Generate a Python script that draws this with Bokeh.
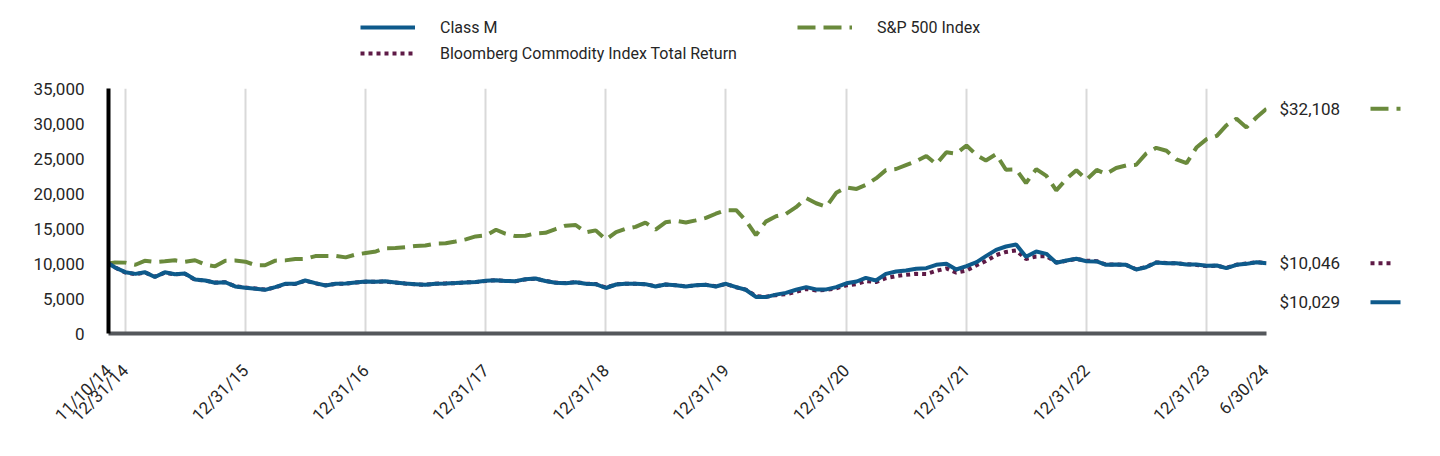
import pandas as pd
from bokeh.plotting import figure
from bokeh.layouts import row, column
from bokeh.models import (Range1d, FixedTicker, NumeralTickFormatter, Legend,
                          LegendItem, Label, ColumnDataSource)
from bokeh.embed import file_html
from bokeh.resources import INLINE

# ---------------- data ----------------
START_DATE = "2014-11-10"
END_DATE = "2024-06-30"
try:
    month_ends = list(pd.date_range("2014-11-30", END_DATE, freq="ME"))
except Exception:
    month_ends = list(pd.date_range("2014-11-30", END_DATE, freq="M"))
DATES = [pd.Timestamp(START_DATE)] + month_ends

CLASS_M = [10000,
    9430, 8760,
    8520, 8760, 8080, 8740, 8470, 8560, 7720, 7570, 7250, 7320, 6720, 6530,
    6380, 6240, 6620, 7100, 7100, 7570, 7190, 6860, 7100, 7150, 7300, 7430,
    7400, 7450, 7300, 7150, 7050, 6950, 7100, 7150, 7200, 7300, 7350, 7520,
    7620, 7500, 7480, 7750, 7860, 7500, 7250, 7190, 7330, 7100, 7050, 6500,
    7000, 7100, 7100, 7050, 6710, 7000, 6900, 6710, 6900, 6950, 6710, 7100,
    6630, 6250, 5220, 5200, 5550, 5800, 6250, 6620, 6300, 6300, 6620, 7170,
    7430, 7950, 7570, 8520, 8860, 9000, 9240, 9330, 9810, 9950, 9140, 9620,
    10190, 11050, 11950, 12430, 12710, 10950, 11710, 11380, 10100, 10430, 10670, 10330,
    10290, 9810, 9860, 9810, 9140, 9470, 10140, 10050, 10050, 9860, 9860, 9670,
    9710, 9330, 9810, 9950, 10190, 10029]

BCOM = [10000,
    9430, 8720,
    8470, 8720, 8120, 8700, 8440, 8540, 7680, 7560, 7270, 7320, 6760, 6560,
    6420, 6270, 6580, 7080, 7080, 7540, 7160, 6880, 7090, 7120, 7270, 7400,
    7380, 7420, 7280, 7140, 7040, 6960, 7110, 7160, 7190, 7310, 7340, 7500,
    7620, 7510, 7470, 7730, 7840, 7510, 7270, 7210, 7340, 7120, 7070, 6560,
    7020, 7110, 7090, 7040, 6760, 6990, 6900, 6740, 6880, 6950, 6740, 7080,
    6600, 6270, 5350, 5250, 5480, 5620, 5950, 6370, 6150, 6230, 6450, 6880,
    7050, 7500, 7350, 7900, 8200, 8380, 8520, 8500, 8950, 9300, 8700, 9000,
    9750, 10350, 11200, 11650, 11860, 10650, 11000, 11050, 10150, 10380, 10660, 10400,
    10330, 9850, 9880, 9800, 9180, 9500, 10150, 10070, 10030, 9900, 9800, 9640,
    9680, 9380, 9830, 9990, 10200, 10046]

SP500 = [10000,
    10150, 10125,
    9820, 10380, 10215, 10315, 10450, 10250, 10465, 9835, 9590, 10400, 10430, 10265,
    9755, 9745, 10405, 10445, 10635, 10665, 11060, 11075, 11075, 10875, 11275, 11500,
    11720, 12185, 12200, 12325, 12500, 12575, 12840, 12880, 13145, 13450, 13865, 14020,
    14820, 14275, 13915, 13970, 14305, 14390, 14925, 15410, 15500, 14440, 14735, 13405,
    14480, 14945, 15235, 15850, 14845, 15890, 16120, 15865, 16160, 16510, 17110, 17625,
    17620, 16170, 14050, 15985, 16750, 17080, 18045, 19340, 18605, 18110, 20095, 20865,
    20655, 21225, 22155, 23340, 23500, 24050, 24620, 25370, 24190, 25885, 25705, 26860,
    25470, 24705, 25620, 23385, 23430, 21495, 23475, 22515, 20440, 22095, 23330, 21985,
    23365, 22795, 23635, 24005, 24110, 25700, 26525, 26105, 24860, 24335, 26560, 27765,
    28230, 29735, 30690, 29435, 30895, 32108]

TICK_DATES = ["2014-11-10", "2014-12-31", "2015-12-31", "2016-12-31", "2017-12-31",
              "2018-12-31", "2019-12-31", "2020-12-31", "2021-12-31", "2022-12-31",
              "2023-12-31", "2024-06-30"]
TICK_LABELS = ["11/10/14", "12/31/14", "12/31/15", "12/31/16", "12/31/17", "12/31/18",
               "12/31/19", "12/31/20", "12/31/21", "12/31/22", "12/31/23", "6/30/24"]

SERIES_NAMES = ["Class M", "Bloomberg Commodity Index Total Return", "S&P 500 Index"]
END_LABELS = ["$32,108", "$10,046", "$10,029"]

# ---------------- styles ----------------
FONT = "Roboto"
TXT = "#262626"
FS = "17px"
C_M = "#0e5a8b"
C_SP = "#6a8a3c"
C_B = "#5e1a46"
DASH_SP = "18 8"
DASH_B = "4 4"


def ms(d):
    return pd.Timestamp(d).value // 10**6


TOTAL_W = 1432
H0 = 70            # legend strip height
H = 370            # main plot height
W1 = 1272
ML, MR, MT, MB = 108, 6, 18, 107
W2 = TOTAL_W - W1

# ---------------- legend strip ----------------
p0 = figure(width=TOTAL_W, height=H0, x_range=Range1d(0, TOTAL_W), y_range=Range1d(0, H0),
            output_backend="svg", toolbar_location=None,
            min_border_left=0, min_border_right=0, min_border_top=0, min_border_bottom=0)
p0.axis.visible = False
p0.grid.visible = False
p0.outline_line_color = None
# off-screen stand-ins that only feed the legend swatches
d_m = p0.line([-20, -10], [-20, -20], line_color=C_M, line_width=4)
d_b = p0.line([-20, -10], [-20, -20], line_color=C_B, line_width=4, line_dash=DASH_B)
d_sp = p0.line([-20, -10], [-20, -20], line_color=C_SP, line_width=4, line_dash=DASH_SP)
legend = Legend(items=[
    LegendItem(label=SERIES_NAMES[0], renderers=[d_m]),
    LegendItem(label=SERIES_NAMES[1], renderers=[d_b]),
    LegendItem(label=SERIES_NAMES[2], renderers=[d_sp]),
], ncols=2, location=(360, 7), glyph_width=55, glyph_height=20,
    label_standoff=25, label_width=351, spacing=6, padding=6,
    border_line_color=None, background_fill_alpha=0,
    label_text_font=FONT, label_text_font_size="16px", label_text_color=TXT)
p0.add_layout(legend)

# ---------------- main plot ----------------
x0, x1 = ms(START_DATE), ms(END_DATE)
yr = Range1d(0, 35000)
p = figure(width=W1, height=H, x_axis_type="datetime",
           x_range=Range1d(x0, x1), y_range=yr,
           output_backend="svg", toolbar_location=None,
           min_border_left=ML, min_border_right=MR,
           min_border_top=MT, min_border_bottom=MB)
p.outline_line_color = None

src = ColumnDataSource(dict(x=DATES, m=CLASS_M, b=BCOM, sp=SP500))
p.line("x", "sp", source=src, line_color=C_SP, line_width=4, line_dash=DASH_SP)
p.line("x", "b", source=src, line_color=C_B, line_width=4, line_dash=DASH_B)
p.line("x", "m", source=src, line_color=C_M, line_width=4)

tick_ms = [ms(d) for d in TICK_DATES]
xa = p.xaxis[0]
xa.ticker = FixedTicker(ticks=tick_ms)
xa.major_label_overrides = {t: l for t, l in zip(tick_ms, TICK_LABELS)}
xa.major_label_orientation = 0.785398
xa.axis_line_color = "#54575b"
xa.axis_line_width = 4
xa.major_tick_line_color = None
xa.minor_tick_line_color = None
xa.major_label_text_font = FONT
xa.major_label_text_font_size = FS
xa.major_label_text_color = TXT
xa.major_label_standoff = 28

ya = p.yaxis[0]
ya.ticker = FixedTicker(ticks=list(range(0, 35001, 5000)))
ya.formatter = NumeralTickFormatter(format="0,0")
ya.axis_line_color = "black"
ya.axis_line_width = 4
ya.major_tick_line_color = None
ya.minor_tick_line_color = None
ya.major_label_text_font = FONT
ya.major_label_text_font_size = FS
ya.major_label_text_color = TXT
ya.major_label_standoff = 18

p.ygrid.visible = False
p.xgrid.ticker = FixedTicker(ticks=tick_ms)
p.xgrid.grid_line_color = "#d9d9d9"
p.xgrid.grid_line_width = 2

# ---------------- right strip: end values ----------------
frame_h = H - MT - MB
val_per_px = 35000 / frame_h
p2 = figure(width=W2, height=H, x_range=Range1d(0, W2), y_range=yr,
            output_backend="svg", toolbar_location=None,
            min_border_left=0, min_border_right=0,
            min_border_top=MT, min_border_bottom=MB)
p2.axis.visible = False
p2.grid.visible = False
p2.outline_line_color = None

end_vals = [SP500[-1], BCOM[-1], CLASS_M[-1]]
y_offsets = [0, 0, -39]
colors = [C_SP, C_B, C_M]
dashes = [DASH_SP, DASH_B, "solid"]
sample_len = [30, 22, 30]
for txt, v, yo, c, d, sl in zip(END_LABELS, end_vals, y_offsets, colors, dashes, sample_len):
    p2.add_layout(Label(x=7, y=v, y_offset=yo, text=txt,
                        text_baseline="middle", text_font=FONT,
                        text_font_size=FS, text_color=TXT))
    yy = v + yo * val_per_px
    p2.line([98, 98 + sl], [yy, yy], line_color=c, line_width=4, line_dash=d)

layout = column(p0, row(p, p2))
open("out.html", "w").write(file_html(layout, INLINE))
